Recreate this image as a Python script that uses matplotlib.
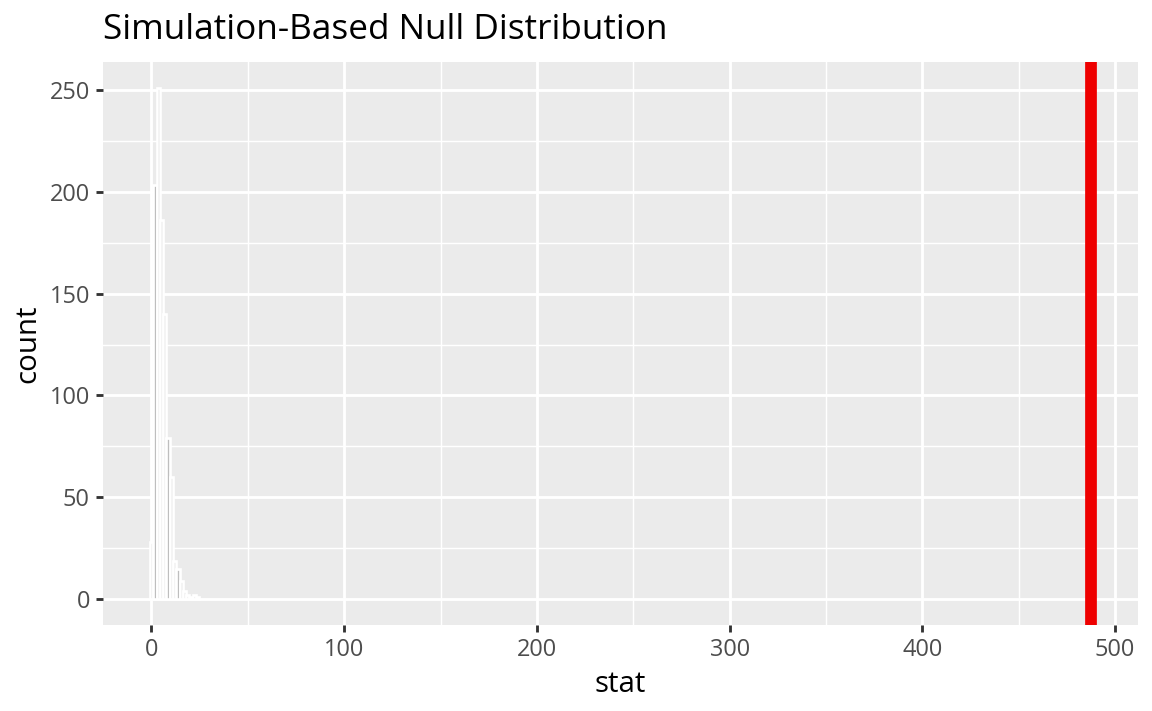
import numpy as np
import matplotlib
matplotlib.use("Agg")
import matplotlib.pyplot as plt
from matplotlib.ticker import MultipleLocator

# Data (15 bins of simulated null statistics)
bin_centers = [0.1, 1.8, 3.5, 5.2, 6.9, 8.6, 10.3, 12.0, 13.7, 15.4, 17.1, 18.8, 20.5, 22.2, 23.9]
bin_counts = [28, 203, 251, 186, 140, 79, 60, 19, 15, 9, 4, 2, 1, 2, 1]
bin_width = 1.7
obs_stat = 487.5

x_ticks = [0, 100, 200, 300, 400, 500]
y_ticks = [0, 50, 100, 150, 200, 250]

plt.rcParams['font.family'] = ['Open Sans', 'DejaVu Sans']

DPI = 192
fig = plt.figure(figsize=(1152 / DPI, 711 / DPI), dpi=DPI)
ax = fig.add_axes([103 / 1152, 1 - 625 / 711, (1138 - 103) / 1152, (625 - 62) / 711])
ax.set_facecolor('#EBEBEB')

ax.bar(bin_centers, bin_counts, width=bin_width, color='#BEBEBE',
       edgecolor='white', linewidth=1.0, zorder=3)
ax.axvline(obs_stat, color='#EE0000', linewidth=4.4, zorder=4)

lo = min(bin_centers) - bin_width / 2
hi = obs_stat
pad = (hi - lo) * 0.05
ax.set_xlim(lo - pad, hi + pad)
ymax = max(bin_counts)
ax.set_ylim(-ymax * 0.05, ymax * 1.05)

ax.set_xticks(x_ticks)
ax.set_yticks(y_ticks)
ax.xaxis.set_minor_locator(MultipleLocator(50))
ax.yaxis.set_minor_locator(MultipleLocator(25))
ax.grid(which='major', color='white', linewidth=1.07, zorder=0)
ax.grid(which='minor', color='white', linewidth=0.53, zorder=0)
ax.set_axisbelow(True)
for s in ax.spines.values():
    s.set_visible(False)
ax.tick_params(which='major', length=2.75, width=1.07, color='#333333',
               labelcolor='#4D4D4D', labelsize=8.8, pad=2.2)
ax.tick_params(which='minor', length=0)

ax.set_xlabel('stat', fontsize=11, color='black', labelpad=2.75)
ax.set_ylabel('count', fontsize=11, color='black', labelpad=2.75)
ax.set_title('Simulation-Based Null Distribution', fontsize=13.2, loc='left',
             color='black', pad=8.8)

fig.savefig('out.png', dpi=DPI)
